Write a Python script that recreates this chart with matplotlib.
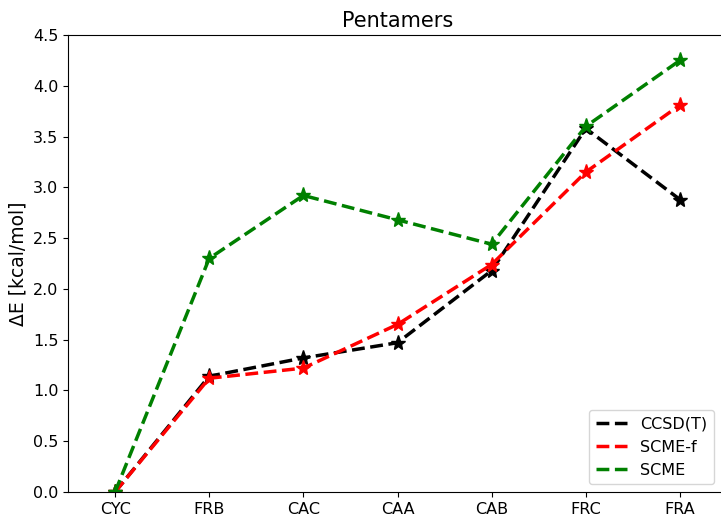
import numpy as np
import matplotlib
matplotlib.use('Agg')
from matplotlib import pyplot as plt

structures = ['CYC', 'FRB', 'CAC', 'CAA', 'CAB', 'FRC', 'FRA']
ccsdt = [0.0, 1.14, 1.32, 1.47, 2.18, 3.58, 2.88]
scme_f = [0.0, 1.12, 1.22, 1.65, 2.24, 3.15, 3.81]
scme = [0.0, 2.30, 2.92, 2.68, 2.44, 3.60, 4.25]

fig = plt.figure(figsize=(7.21, 5.14), dpi=100)
ax = fig.add_axes([68/721, 22/514, 659/721, 457/514])

x = np.arange(len(structures))
# dashed lines carry the legend, stars drawn on top without labels
ax.plot(x, ccsdt, 'k--', lw=2.5, label='CCSD(T)')
ax.plot(x, ccsdt, 'k*', ms=11)
ax.plot(x, scme_f, 'r--', lw=2.5, label='SCME-f')
ax.plot(x, scme_f, 'r*', ms=11)
ax.plot(x, scme, 'g--', lw=2.5, label='SCME')
ax.plot(x, scme, 'g*', ms=11)

ax.set_xticks(x)
ax.set_xticklabels(structures, fontsize=11.5)
ax.tick_params(axis='y', labelsize=11.5)
ax.set_xlim(-0.5, 6.5)
ax.set_ylim(0, 4.5)
ax.set_ylabel('ΔE [kcal/mol]', fontsize=13.5)
ax.set_title('Pentamers', fontsize=15)
ax.legend(loc='lower right', fontsize=11.5, bbox_to_anchor=(0.992, 0.0))

fig.savefig('out.png', dpi=100)
